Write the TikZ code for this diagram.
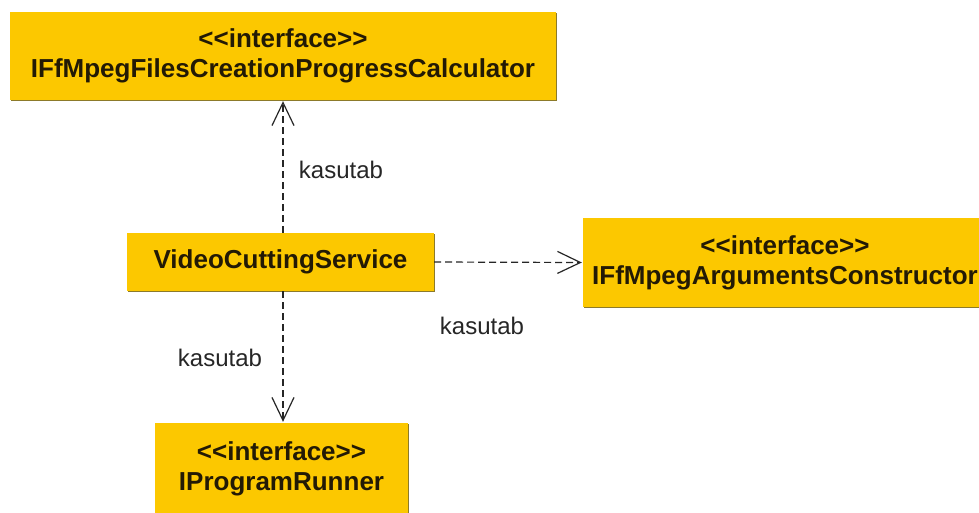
\documentclass[tikz,border=0pt]{standalone}
\usepackage{fontspec}
\setmainfont{Liberation Sans}
\usetikzlibrary{arrows.meta}
\definecolor{boxfill}{HTML}{FCC800}
\definecolor{boxedge}{HTML}{8C7A2A}
\definecolor{boxtext}{HTML}{231A05}
% guillemet-free stereotype brackets
\newcommand\stopen{<\kern0pt<}
\newcommand\stclose{>\kern0pt>}
\tikzset{
  x=1pt, y=-1pt,
  umlbox/.style={fill=boxfill, draw=none, inner sep=0pt, align=center,
    text=boxtext, font=\fontsize{26}{30}\selectfont\bfseries},
  uses/.style={draw=black!85, line width=1.2pt, dash pattern=on 7pt off 4pt,
    -{Straight Barb[length=23pt,width=22pt,line width=1.2pt]}, shorten >=1pt},
  edgelabel/.style={font=\fontsize{24}{28}\selectfont, text=black!85, inner sep=0pt}
}
\begin{document}
\begin{tikzpicture}
\useasboundingbox (0,0) rectangle (979,512);
\clip (0,0) rectangle (979,512);
\fill[white] (0,0) rectangle (979,512);

% olive edge under each class box
\fill[boxedge] (11,13) rectangle (557,101);
\fill[boxedge] (128,234) rectangle (435,292);
\fill[boxedge] (584,219) rectangle (990,308);
\fill[boxedge] (156,424) rectangle (409,520);

% class boxes
\node[umlbox, minimum width=546pt, minimum height=88pt] (calc) at (283,56)
  {\stopen interface\stclose\\IFfMpegFilesCreationProgressCalculator};
\node[umlbox, minimum width=307pt, minimum height=58pt] (svc) at (280.5,262)
  {VideoCuttingService};
\node[umlbox, minimum width=404pt, minimum height=89pt] (args) at (785,262.5)
  {\stopen interface\stclose\\IFfMpegArgumentsConstructor};
\node[umlbox, minimum width=253pt, minimum height=92pt] (runner) at (281.5,469)
  {\stopen interface\stclose\\IProgramRunner};

% dependencies
\draw[uses] (svc.north -| 283,0) -- (calc.south -| 283,0);
\draw[uses] (svc.south -| 283,0) -- (runner.north -| 283,0);
\draw[uses] (svc.east) -- (args.west);

% dependency labels
\node[edgelabel] (l1) at (341,170) {kasutab};
\node[edgelabel] (l2) at (482,326) {kasutab};
\node[edgelabel] (l3) at (220,358) {kasutab};
\end{tikzpicture}
\end{document}
